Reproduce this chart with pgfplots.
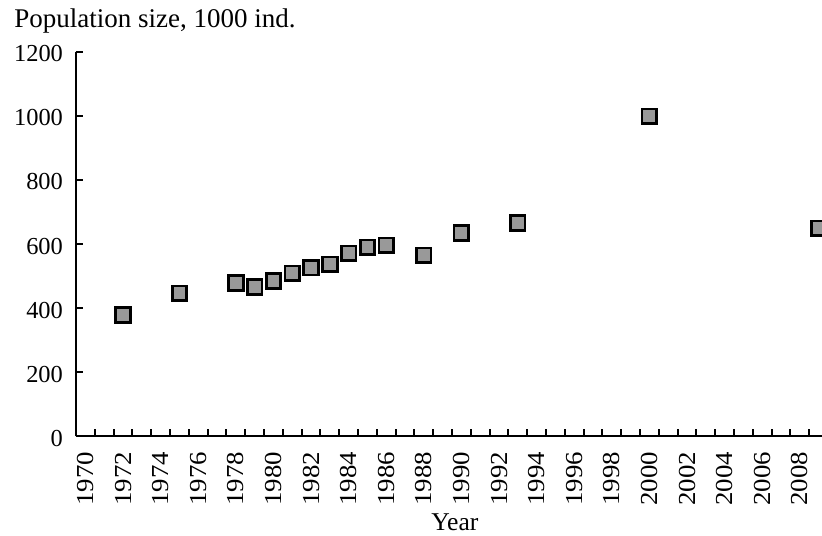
\documentclass[border=0pt]{standalone}
\usepackage{fontspec}
\setmainfont{Liberation Serif}
\usepackage{graphicx}
\usepackage{pgfplots}
\pgfplotsset{compat=1.18}
\newcommand\yl[1]{\scalebox{1.1}[1]{#1}}
\begin{document}
\fontsize{12.2}{14}\selectfont
\begin{tikzpicture}
\begin{axis}[
  scale only axis,
  width=373.15pt, height=192.4pt,
  xmin=1969.48, xmax=2009.18,
  ymin=0, ymax=1200,
  axis lines*=left,
  axis line style={line width=1pt},
  tick align=inside,
  every tick/.append style={line width=1pt, black},
  major tick length=3.8pt,
  xtick={1970.5,1971.5,...,2008.5},
  xticklabels={},
  extra x ticks={1970,1972,...,2008},
  extra x tick labels={\yl{1970},\yl{1972},\yl{1974},\yl{1976},\yl{1978},\yl{1980},\yl{1982},\yl{1984},\yl{1986},\yl{1988},\yl{1990},\yl{1992},\yl{1994},\yl{1996},\yl{1998},\yl{2000},\yl{2002},\yl{2004},\yl{2006},\yl{2008}},
  extra x tick style={tick style={draw=none},
    xticklabel style={yshift=-7.6pt, rotate=90, anchor=east, inner sep=0pt}},
  ytick={0,200,...,1200},
  /pgf/number format/1000 sep={},
  /pgf/number format/assume math mode=true,
  yticklabel style={anchor=east, inner sep=0pt, xshift=-6.2pt, yshift=-1pt},
  clip marker paths=true,
]
\addplot[only marks, mark=square*, mark size=3.65pt,
  mark options={line width=1.35pt, draw=black, fill=black!40}]
  coordinates {
  (1972,379) (1975,447) (1978,479) (1979,466) (1980,485) (1981,509)
  (1982,526) (1983,537) (1984,571) (1985,590) (1986,596) (1988,565)
  (1990,635) (1993,666) (2000,999) (2009,649)
  };
\end{axis}
\node[anchor=base west, inner sep=0pt, font=\fontsize{13.5}{16}\selectfont] at ([xshift=-30.85pt, yshift=11.85pt]current axis.north west) {Population size, 1000 ind.};
\node[anchor=base, inner sep=0pt, font=\fontsize{12.8}{15}\selectfont] at ([xshift=3pt, yshift=-47.25pt]current axis.south) {Year};
\pgfresetboundingbox
\path[use as bounding box] ([xshift=-37.85pt, yshift=-49.75pt]current axis.south west) rectangle ([yshift=25.85pt]current axis.north east);
\end{tikzpicture}
\end{document}
